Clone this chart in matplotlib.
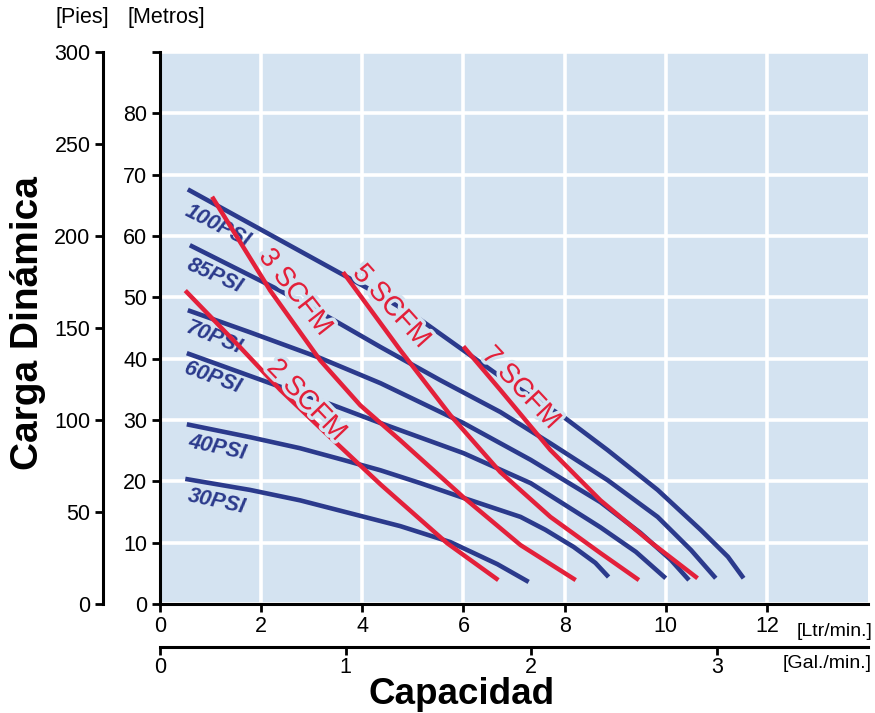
import matplotlib.pyplot as plt
import matplotlib.patheffects as pe

plt.rcParams['font.family'] = ['Liberation Sans', 'DejaVu Sans']

BG = '#d4e3f1'
BLUE = '#2b3a8c'
RED = '#e3203a'

# capacidad [Ltr/min] vs carga dinamica [m]
psi100_x = [0.55, 2.38, 4.10, 5.09, 6.69, 7.98, 8.85, 9.84, 10.69, 11.23, 11.54]
psi100_y = [67.6, 59.3, 51.5, 46.7, 37.3, 30.5, 25.1, 18.6, 12.1, 7.7, 4.2]
psi85_x = [0.59, 2.28, 3.37, 4.36, 5.54, 6.73, 7.72, 8.85, 9.84, 10.50, 10.99]
psi85_y = [58.5, 51.5, 46.6, 41.9, 36.5, 31.3, 26.2, 20.2, 14.2, 8.8, 4.2]
psi70_x = [0.55, 1.78, 3.17, 4.36, 6.00, 7.33, 8.71, 9.50, 10.10, 10.46]
psi70_y = [47.9, 44.3, 40.1, 36.0, 29.5, 23.5, 16.6, 11.6, 7.2, 3.9]
psi60_x = [0.53, 2.28, 3.17, 4.36, 6.00, 7.33, 8.71, 9.41, 10.0]
psi60_y = [40.9, 35.7, 33.2, 29.5, 24.6, 19.7, 12.5, 8.5, 4.2]
psi40_x = [0.53, 1.78, 2.77, 3.62, 4.36, 5.15, 6.00, 7.13, 7.62, 8.18, 8.61, 8.87]
psi40_y = [29.3, 27.2, 25.4, 23.5, 21.8, 19.7, 17.3, 14.2, 12.1, 9.3, 6.7, 4.4]
psi30_x = [0.50, 1.78, 2.77, 3.76, 4.75, 5.74, 6.67, 7.29]
psi30_y = [20.4, 18.6, 16.9, 14.8, 12.7, 10.1, 6.5, 3.6]

scfm2_x = [0.50, 1.58, 2.38, 3.17, 4.36, 5.68, 6.69]
scfm2_y = [51.1, 41.9, 34.9, 28.7, 19.5, 9.9, 3.9]
scfm3_x = [1.03, 2.18, 3.17, 3.96, 4.75, 6.00, 7.13, 8.22]
scfm3_y = [66.4, 51.1, 39.7, 32.4, 26.7, 17.4, 9.6, 3.9]
scfm5_x = [3.62, 4.75, 5.74, 6.73, 7.72, 8.71, 9.47]
scfm5_y = [54.1, 41.4, 30.8, 21.5, 14.2, 8.3, 3.9]
scfm7_x = [6.00, 6.73, 7.72, 8.71, 9.70, 10.63]
scfm7_y = [42.0, 34.9, 25.1, 16.9, 10.1, 4.2]

psi_names = ['100PSI', '85PSI', '70PSI', '60PSI', '40PSI', '30PSI']
scfm_names = ['2 SCFM', '3 SCFM', '5 SCFM', '7 SCFM']

ltr_ticks = [0, 2, 4, 6, 8, 10, 12]
gal_ticks = [0, 1, 2, 3]
m_ticks = [0, 10, 20, 30, 40, 50, 60, 70, 80, 90]
ft_ticks = [0, 50, 100, 150, 200, 250, 300]
LPG = 3.67   # escala de la grafica
FPM = 300 / 90

fig = plt.figure(figsize=(8.75, 7.13), dpi=100)
ax = fig.add_axes([160/875, 109/713, 708/875, 552/713])
ax.set_xlim(0, 14)
ax.set_ylim(0, 90)
ax.set_facecolor(BG)
ax.set_axisbelow(True)
ax.grid(color='white', lw=2.6)
for s in ['top', 'right']:
    ax.spines[s].set_visible(False)
for s in ['left', 'bottom']:
    ax.spines[s].set_linewidth(2.2)
ax.set_xticks(ltr_ticks)
ax.set_yticks(m_ticks)
ax.set_yticklabels([str(t) for t in m_ticks[:-1]] + [''])
ax.tick_params(length=6, width=2, labelsize=15.5, pad=3)

secy = ax.secondary_yaxis(-0.0805, functions=(lambda m: m*FPM, lambda f: f/FPM))
secy.set_yticks(ft_ticks)
secy.spines['left'].set_linewidth(2.2)
secy.tick_params(length=6, width=2, labelsize=15.5, pad=3)

secx = ax.secondary_xaxis(-0.078, functions=(lambda l: l/LPG, lambda g: g*LPG))
secx.set_xticks(gal_ticks)
secx.spines['bottom'].set_linewidth(2.2)
secx.tick_params(length=6, width=2, labelsize=15.5, pad=1)

psi_x = [psi100_x, psi85_x, psi70_x, psi60_x, psi40_x, psi30_x]
psi_y = [psi100_y, psi85_y, psi70_y, psi60_y, psi40_y, psi30_y]
for xs, ys in zip(psi_x, psi_y):
    ax.plot(xs, ys, color=BLUE, lw=3.3, solid_capstyle='butt',
            solid_joinstyle='round', zorder=3)

psi_pos = [(1.15, 61.6, -27), (1.08, 53.5, -24), (1.06, 43.4, -22),
           (1.04, 36.9, -20), (1.14, 25.4, -12), (1.12, 16.6, -12)]
for name, (x, y, r) in zip(psi_names, psi_pos):
    ax.text(x, y, name, color=BLUE, fontsize=15.5, fontweight='bold', style='italic',
            rotation=r, rotation_mode='anchor', ha='center', va='center', zorder=4)

scfm_x = [scfm2_x, scfm3_x, scfm5_x, scfm7_x]
scfm_y = [scfm2_y, scfm3_y, scfm5_y, scfm7_y]
for xs, ys in zip(scfm_x, scfm_y):
    ax.plot(xs, ys, color=RED, lw=3.2, solid_capstyle='butt',
            solid_joinstyle='round', zorder=5)

scfm_pos = [(2.89, 33.2, -46), (2.67, 50.8, -52), (4.57, 48.5, -48), (7.13, 35.2, -47)]
for name, (x, y, r) in zip(scfm_names, scfm_pos):
    ax.text(x, y, name, color=RED, fontsize=20, rotation=r, rotation_mode='anchor',
            ha='center', va='center', zorder=6,
            path_effects=[pe.withStroke(linewidth=5, foreground=BG)])

fig.text(82/875, 1 - 17/713, '[Pies]', fontsize=15.5, ha='center', va='center')
fig.text(166/875, 1 - 17/713, '[Metros]', fontsize=15.5, ha='center', va='center')
fig.text(872/875, 1 - 631/713, '[Ltr/min.]', fontsize=14, ha='right', va='center')
fig.text(872/875, 1 - 663/713, '[Gal./min.]', fontsize=14, ha='right', va='center')
fig.text(28/875, 1 - 323/713, 'Carga Dinámica', fontsize=28, fontweight='bold',
         rotation=90, ha='center', va='center')
fig.text(462/875, 1 - 704/713, 'Capacidad', fontsize=26.5, fontweight='bold',
         ha='center', va='baseline')

fig.savefig('out.png', dpi=100)
